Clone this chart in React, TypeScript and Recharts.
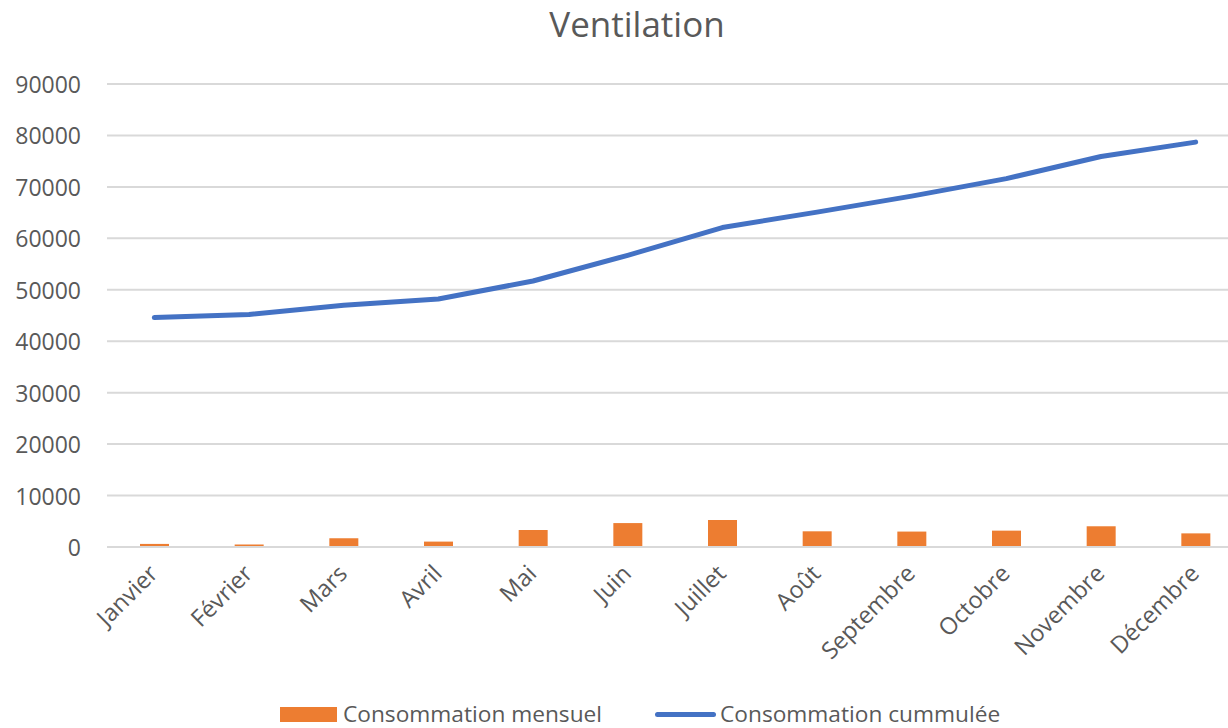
import React from "react";
import { ComposedChart, Bar, Line, XAxis, YAxis, CartesianGrid } from "recharts";

const months = ["Janvier", "Février", "Mars", "Avril", "Mai", "Juin", "Juillet", "Août", "Septembre", "Octobre", "Novembre", "Décembre"];
const mensuel = [600, 500, 1700, 1050, 3300, 4650, 5250, 3050, 3000, 3180, 4030, 2650];
const cumulee = [44600, 45200, 47000, 48200, 51700, 56700, 62100, 65100, 68200, 71600, 75900, 78700];
const yTicks = [0, 10000, 20000, 30000, 40000, 50000, 60000, 70000, 80000, 90000];

const data = months.map((m, i) => ({ month: m, mensuel: mensuel[i], cumulee: cumulee[i] }));

const FONT = "'Open Sans', sans-serif";
const TEXT = "#595959";
const ORANGE = "#ED7D31";
const BLUE = "#4472C4";

const YTick = (props: any) => {
  const { x, y, payload } = props;
  return (
    <text x={x} y={y} textAnchor="end" dominantBaseline="central" fill={TEXT} fontSize={23} fontFamily={FONT}>
      {payload.value}
    </text>
  );
};

const XTick = (props: any) => {
  const { x, y, payload } = props;
  return (
    <text
      x={0}
      y={0}
      transform={`translate(${x + 5},${y + 20}) rotate(-45)`}
      textAnchor="end"
      fill={TEXT}
      fontSize={23.5}
      fontFamily={FONT}
    >
      {payload.value}
    </text>
  );
};

export default function App() {
  return (
    <div style={{ position: "absolute", left: 0, top: 0, width: 1228, height: 728, overflow: "hidden", background: "#fff" }}>
      <div style={{ position: "absolute", left: 637, top: 0, transform: "translateX(-50%)", whiteSpace: "nowrap", fontFamily: FONT, fontSize: 35, color: TEXT, lineHeight: "normal" }}>
        Ventilation
      </div>
      <div style={{ position: "absolute", left: 0, top: 0 }}>
        <ComposedChart width={1250} height={728} data={data} margin={{ top: 84, right: 7, bottom: 0, left: 0 }}>
          <CartesianGrid vertical={false} stroke="#D9D9D9" strokeWidth={2} />
          <XAxis
            dataKey="month"
            height={181}
            tickLine={false}
            axisLine={{ stroke: "#D9D9D9", strokeWidth: 2 }}
            tick={<XTick />}
            interval={0}
          />
          <YAxis
            width={107}
            domain={[0, 90000]}
            ticks={yTicks}
            tickLine={false}
            axisLine={false}
            tick={<YTick />}
            tickMargin={20}
            interval={0}
          />
          <Bar dataKey="mensuel" fill={ORANGE} barSize={29} isAnimationActive={false} />
          <Line dataKey="cumulee" stroke={BLUE} strokeWidth={5} strokeLinecap="round" strokeLinejoin="round" dot={false} isAnimationActive={false} />
        </ComposedChart>
      </div>
      <div style={{ position: "absolute", left: 280, top: 700, display: "flex", alignItems: "center", fontFamily: FONT, fontSize: 22.7, color: TEXT, whiteSpace: "nowrap", lineHeight: "28px" }}>
        <span style={{ display: "inline-block", width: 57, height: 15, background: ORANGE, marginRight: 6 }} />
        <span>Consommation mensuel</span>
        <span style={{ display: "inline-block", width: 61, height: 5, borderRadius: 3, background: BLUE, marginLeft: 53, marginRight: 4 }} />
        <span>Consommation cummulée</span>
      </div>
    </div>
  );
}
